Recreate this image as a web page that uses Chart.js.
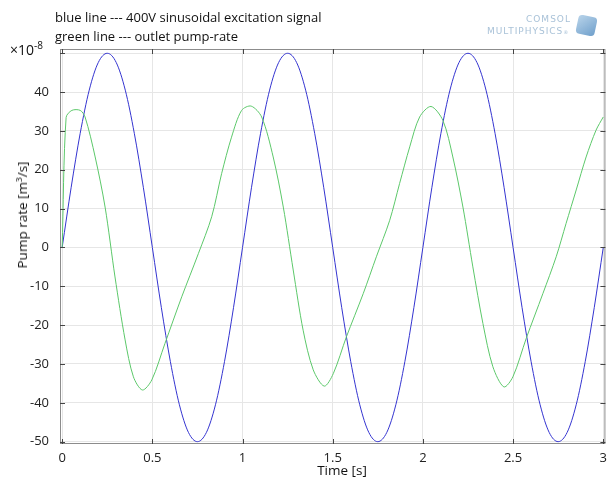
<!DOCTYPE html>
<html>
<head>
<meta charset="utf-8">
<script src="https://cdn.jsdelivr.net/npm/chart.js@4.4.1/dist/chart.umd.min.js"></script>
<style>
  html, body { margin: 0; padding: 0; background: #fff; }
  #wrap { position: relative; width: 613px; height: 482px; font-family: "Open Sans", sans-serif; color: #111; }
  #wrap canvas { position: absolute; left: 0; top: 0; }
  .note { position: absolute; left: 55px; font-size: 13px; white-space: nowrap; line-height: 16px; }
  .scale { position: absolute; left: 10px; top: 38px; font-size: 14px; white-space: nowrap; }
  .scale sup { font-size: 10px; }
  .ytitle { position: absolute; left: 22px; top: 215px; font-size: 13.5px; white-space: nowrap;
            transform: translate(-50%, -50%) rotate(-90deg); }
  .xtitle { position: absolute; left: 342px; top: 470px; font-size: 13.5px; white-space: nowrap;
            transform: translate(-50%, -50%); }
  .logo { position: absolute; color: #a9c2d8; font-family: "DejaVu Sans", sans-serif; font-size: 9px;
          letter-spacing: 1px; white-space: nowrap; }
  .cube { position: absolute; left: 577px; top: 16px; width: 19px; height: 19px; border-radius: 4px;
          background: linear-gradient(135deg, #b9d4ea, #6f9fcb); transform: rotate(12deg); }
</style>
</head>
<body>
<div id="wrap">
  <canvas id="pumpChart" width="613" height="482"></canvas>
  <div class="note" style="top:9px">blue line --- 400V sinusoidal excitation signal</div>
  <div class="note" style="top:28px">green line --- outlet pump-rate</div>
  <div class="scale">×10<sup>-8</sup></div>
  <div class="ytitle">Pump rate [m³/s]</div>
  <div class="xtitle">Time [s]</div>
  <div class="logo" style="left:526px;top:14px">COMSOL</div>
  <div class="logo" style="left:487px;top:26px">MULTIPHYSICS<span style="font-size:5px">®</span></div>
  <div class="cube"></div>
</div>
<script>
// blue line: excitation signal, sampled every 0.05 s
const signalTime = [
  0, 0.05, 0.1, 0.15, 0.2, 0.25, 0.3, 0.35, 0.4, 0.45,
  0.5, 0.55, 0.6, 0.65, 0.7, 0.75, 0.8, 0.85, 0.9, 0.95,
  1, 1.05, 1.1, 1.15, 1.2, 1.25, 1.3, 1.35, 1.4, 1.45,
  1.5, 1.55, 1.6, 1.65, 1.7, 1.75, 1.8, 1.85, 1.9, 1.95,
  2, 2.05, 2.1, 2.15, 2.2, 2.25, 2.3, 2.35, 2.4, 2.45,
  2.5, 2.55, 2.6, 2.65, 2.7, 2.75, 2.8, 2.85, 2.9, 2.95, 3
];
const signalValues = [
  0, 15.5, 29.4, 40.5, 47.6, 50, 47.6, 40.5, 29.4, 15.5,
  0, -15.5, -29.4, -40.5, -47.6, -50, -47.6, -40.5, -29.4, -15.5,
  0, 15.5, 29.4, 40.5, 47.6, 50, 47.6, 40.5, 29.4, 15.5,
  0, -15.5, -29.4, -40.5, -47.6, -50, -47.6, -40.5, -29.4, -15.5,
  0, 15.5, 29.4, 40.5, 47.6, 50, 47.6, 40.5, 29.4, 15.5,
  0, -15.5, -29.4, -40.5, -47.6, -50, -47.6, -40.5, -29.4, -15.5, 0
];

// green line: outlet pump-rate
const pumpTime = [
  0, 0.022, 0.054, 0.1, 0.127, 0.183, 0.238, 0.293, 0.349, 0.395,
  0.445, 0.497, 0.57, 0.663, 0.755, 0.829, 0.884, 0.939, 0.995, 1.048,
  1.106, 1.17, 1.226, 1.281, 1.336, 1.392, 1.453, 1.503, 1.576, 1.669,
  1.742, 1.816, 1.871, 1.927, 1.982, 2.045, 2.111, 2.166, 2.222, 2.277,
  2.333, 2.388, 2.449, 2.499, 2.573, 2.665, 2.739, 2.794, 2.85, 2.905,
  2.96, 3
];
const pumpValues = [
  0, 33.5, 35.3, 35.3, 33.6, 23.3, 10.4, -7.6, -23.8, -33.3,
  -36.7, -34.1, -24.7, -12.7, -1.6, 7.9, 19.0, 28.4, 35.3, 36.4,
  33.6, 23.3, 10.4, -5.8, -21.3, -31.5, -35.7, -32.5, -23.0, -11.9,
  -2.4, 7.0, 16.5, 25.9, 33.6, 36.3, 32.7, 23.3, 10.4, -5.0,
  -19.6, -30.7, -35.9, -33.3, -23.4, -11.9, -2.4, 6.2, 14.8, 23.3,
  30.2, 33.6
];

const toPoints = (xs, ys) => xs.map((x, i) => ({ x: x, y: ys[i] }));

// frame on all four sides with inward tick marks, like the COMSOL plot
const frameTicks = {
  id: 'frameTicks',
  afterDatasetsDraw(chart) {
    const { ctx, chartArea: a, scales } = chart;
    ctx.save();
    ctx.strokeStyle = '#8c8c8c';
    ctx.lineWidth = 1;
    ctx.strokeRect(a.left + 0.5, a.top + 0.5, a.right - a.left - 1, a.bottom - a.top - 1);
    ctx.strokeStyle = '#444';
    ctx.beginPath();
    scales.x.ticks.forEach(t => {
      const px = Math.round(scales.x.getPixelForValue(t.value)) + 0.5;
      ctx.moveTo(px, a.bottom); ctx.lineTo(px, a.bottom - 5);
      ctx.moveTo(px, a.top); ctx.lineTo(px, a.top + 5);
    });
    scales.y.ticks.forEach(t => {
      const py = Math.round(scales.y.getPixelForValue(t.value)) + 0.5;
      ctx.moveTo(a.left, py); ctx.lineTo(a.left + 5, py);
      ctx.moveTo(a.right, py); ctx.lineTo(a.right - 5, py);
    });
    ctx.stroke();
    ctx.restore();
  }
};

const ctx = document.getElementById('pumpChart').getContext('2d');
new Chart(ctx, {
  type: 'line',
  data: {
    datasets: [
      { label: 'outlet pump-rate', data: toPoints(pumpTime, pumpValues), borderColor: '#5cc86a',
        borderWidth: 1, pointRadius: 0, tension: 0.3 },
      { label: '400V sinusoidal excitation signal', data: toPoints(signalTime, signalValues), borderColor: '#3434d0',
        borderWidth: 1, pointRadius: 0, cubicInterpolationMode: 'monotone' }
    ]
  },
  options: {
    responsive: false,
    animation: false,
    layout: { padding: { left: 0, right: 7, top: 49, bottom: 0 } },
    plugins: { legend: { display: false }, tooltip: { enabled: false } },
    scales: {
      x: {
        type: 'linear', min: -0.012, max: 3.012,
        afterFit: s => { s.height = 38; },
        grid: { color: '#e6e6e6', drawTicks: false },
        border: { display: false },
        ticks: { stepSize: 0.5, includeBounds: false, padding: 6, maxRotation: 0,
                 color: '#222', font: { family: 'Open Sans', size: 13 },
                 callback: v => String(v) }
      },
      y: {
        min: -50.6, max: 51.1,
        afterFit: s => { s.width = 60; },
        grid: { color: '#e6e6e6', drawTicks: false },
        border: { display: false },
        ticks: { stepSize: 10, includeBounds: false, padding: 11,
                 color: '#222', font: { family: 'Open Sans', size: 13 },
                 callback: v => (v === 50 ? '' : String(v)) }
      }
    }
  },
  plugins: [frameTicks]
});
</script>
</body>
</html>
